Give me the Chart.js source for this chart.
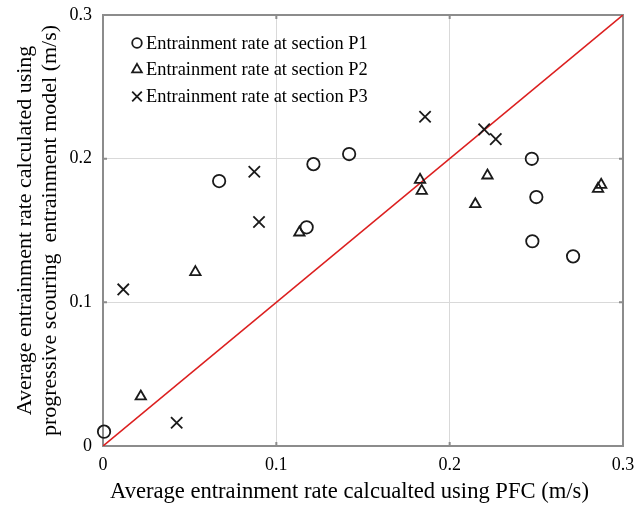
<!DOCTYPE html>
<html>
<head>
<meta charset="utf-8">
<script src="https://cdn.jsdelivr.net/npm/chart.js@4/dist/chart.umd.min.js"></script>
<style>
  html, body { margin: 0; padding: 0; background: #ffffff; }
  #wrap { width: 634px; height: 506px; }
</style>
</head>
<body>
<div id="wrap"><canvas id="c" width="634" height="506"></canvas></div>
<script>
// Entrainment rates: PFC result (x) vs progressive scouring model (y), m/s
const p1X = [0.0006, 0.067, 0.1175, 0.1214, 0.142, 0.2474, 0.250, 0.2477, 0.2712];
const p1Y = [0.010, 0.1844, 0.1522, 0.1962, 0.2032, 0.1999, 0.1733, 0.1425, 0.132];

const p2X = [0.0218, 0.0533, 0.1133, 0.1829, 0.1839, 0.2218, 0.2148, 0.2856, 0.2874];
const p2Y = [0.0345, 0.121, 0.1486, 0.1853, 0.1776, 0.1883, 0.1683, 0.179, 0.1818];

const p3X = [0.0117, 0.0425, 0.0873, 0.090, 0.1858, 0.2199, 0.2266];
const p3Y = [0.109, 0.0162, 0.1909, 0.1559, 0.2292, 0.2204, 0.2136];

// 1:1 reference line
const lineX = [0, 0.3];
const lineY = [0, 0.3];

const seriesNames = [
  'Entrainment rate at section P1',
  'Entrainment rate at section P2',
  'Entrainment rate at section P3'
];
const tickValues = [0, 0.1, 0.2, 0.3];
const xTitle = 'Average entrainment rate calcualted using PFC (m/s)';
const yTitle = ['Average entrainment rate calculated using', 'progressive scouring  entrainment model (m/s)'];

const pts = (xs, ys) => xs.map((x, i) => ({ x: x, y: ys[i] }));

const SERIF = "'Liberation Serif', 'Times New Roman', serif";
const INK = '#1a1a1a';
const FRAME = '#8c8c8c';

// Frame, inward tick marks, x-axis title and the in-plot legend
const framePlugin = {
  id: 'frame',
  beforeDatasetsDraw(chart) {
    const { ctx, chartArea: a, scales } = chart;
    ctx.save();
    ctx.strokeStyle = FRAME;
    ctx.lineWidth = 2;
    ctx.strokeRect(a.left, a.top, a.right - a.left, a.bottom - a.top);
    const len = 4;
    ctx.beginPath();
    tickValues.slice(1, -1).forEach(v => {
      const px = scales.x.getPixelForValue(v);
      const py = scales.y.getPixelForValue(v);
      ctx.moveTo(px, a.bottom); ctx.lineTo(px, a.bottom - len);
      ctx.moveTo(px, a.top); ctx.lineTo(px, a.top + len);
      ctx.moveTo(a.left, py); ctx.lineTo(a.left + len, py);
      ctx.moveTo(a.right, py); ctx.lineTo(a.right - len, py);
    });
    ctx.stroke();
    ctx.restore();
  },
  afterDraw(chart) {
    const { ctx, chartArea: a } = chart;
    ctx.save();
    // x-axis title, set slightly left of the plot centre
    ctx.font = '22.6px ' + SERIF;
    ctx.fillStyle = '#000000';
    ctx.textAlign = 'left';
    ctx.textBaseline = 'middle';
    ctx.fillText(xTitle, a.left + 7, chart.height - 14);

    const styles = ['circle', 'triangle', 'crossRot'];
    const radii = [4.8, 5.6, 6.8];
    const mx = a.left + 34, tx = a.left + 43;
    const ys = [a.top + 28, a.top + 54.5, a.top + 81.5];
    ctx.font = '18.4px ' + SERIF;
    seriesNames.forEach((name, i) => {
      ctx.strokeStyle = INK;
      ctx.fillStyle = 'rgba(0,0,0,0)';
      ctx.lineWidth = 1.8;
      Chart.helpers.drawPoint(ctx, { pointStyle: styles[i], rotation: 0, radius: radii[i], borderWidth: 1.8 }, mx, ys[i]);
      ctx.fillStyle = '#000000';
      ctx.fillText(name, tx, ys[i] + 1);
    });
    ctx.restore();
  }
};

const gridColor = c => (c.tick && (c.tick.value === 0.1 || c.tick.value === 0.2)) ? '#d9d9d9' : 'rgba(0,0,0,0)';
const fmt = v => (v === 0 ? '0' : Number(v).toFixed(1));

new Chart(document.getElementById('c'), {
  type: 'scatter',
  data: {
    datasets: [
      {
        label: seriesNames[0], data: pts(p1X, p1Y),
        pointStyle: 'circle', pointRadius: 6.2, pointHoverRadius: 6.2,
        borderColor: INK, backgroundColor: 'rgba(0,0,0,0)', pointBorderWidth: 1.8, clip: false, order: 1
      },
      {
        label: seriesNames[1], data: pts(p2X, p2Y),
        pointStyle: 'triangle', pointRadius: 6, pointHoverRadius: 6,
        borderColor: INK, backgroundColor: 'rgba(0,0,0,0)', pointBorderWidth: 1.8, clip: false, order: 1
      },
      {
        label: seriesNames[2], data: pts(p3X, p3Y),
        pointStyle: 'crossRot', pointRadius: 8, pointHoverRadius: 8,
        borderColor: INK, backgroundColor: 'rgba(0,0,0,0)', pointBorderWidth: 1.8, clip: false, order: 1
      },
      {
        type: 'line', label: '1:1', data: pts(lineX, lineY),
        borderColor: '#dc1f1f', borderWidth: 1.6, pointRadius: 0, fill: false, order: 2
      }
    ]
  },
  options: {
    responsive: false,
    animation: false,
    devicePixelRatio: 1,
    events: [],
    layout: { padding: { left: 0, top: 15, right: 11, bottom: 0 } },
    plugins: { legend: { display: false }, tooltip: { enabled: false } },
    scales: {
      x: {
        type: 'linear', min: 0, max: 0.3,
        afterFit: s => { s.height = 60; s.paddingLeft = 0; s.paddingRight = 0; },
        afterBuildTicks: s => { s.ticks = tickValues.map(v => ({ value: v })); },
        grid: { color: gridColor, drawTicks: false, lineWidth: 1 },
        border: { display: false },
        ticks: { callback: fmt, padding: 8, color: '#000', maxRotation: 0, autoSkip: false, font: { family: SERIF, size: 18 } },
        title: { display: false }
      },
      y: {
        type: 'linear', min: 0, max: 0.3,
        afterFit: s => { s.width = 103; s.paddingTop = 0; s.paddingBottom = 0; },
        afterBuildTicks: s => { s.ticks = tickValues.map(v => ({ value: v })); },
        grid: { color: gridColor, drawTicks: false, lineWidth: 1 },
        border: { display: false },
        ticks: { callback: fmt, padding: 11, color: '#000', autoSkip: false, font: { family: SERIF, size: 18 } },
        title: { display: true, text: yTitle, color: '#000', padding: { top: 13, bottom: 0 }, font: { family: SERIF, size: 22, lineHeight: 1.14 } }
      }
    }
  },
  plugins: [framePlugin]
});
</script>
</body>
</html>
